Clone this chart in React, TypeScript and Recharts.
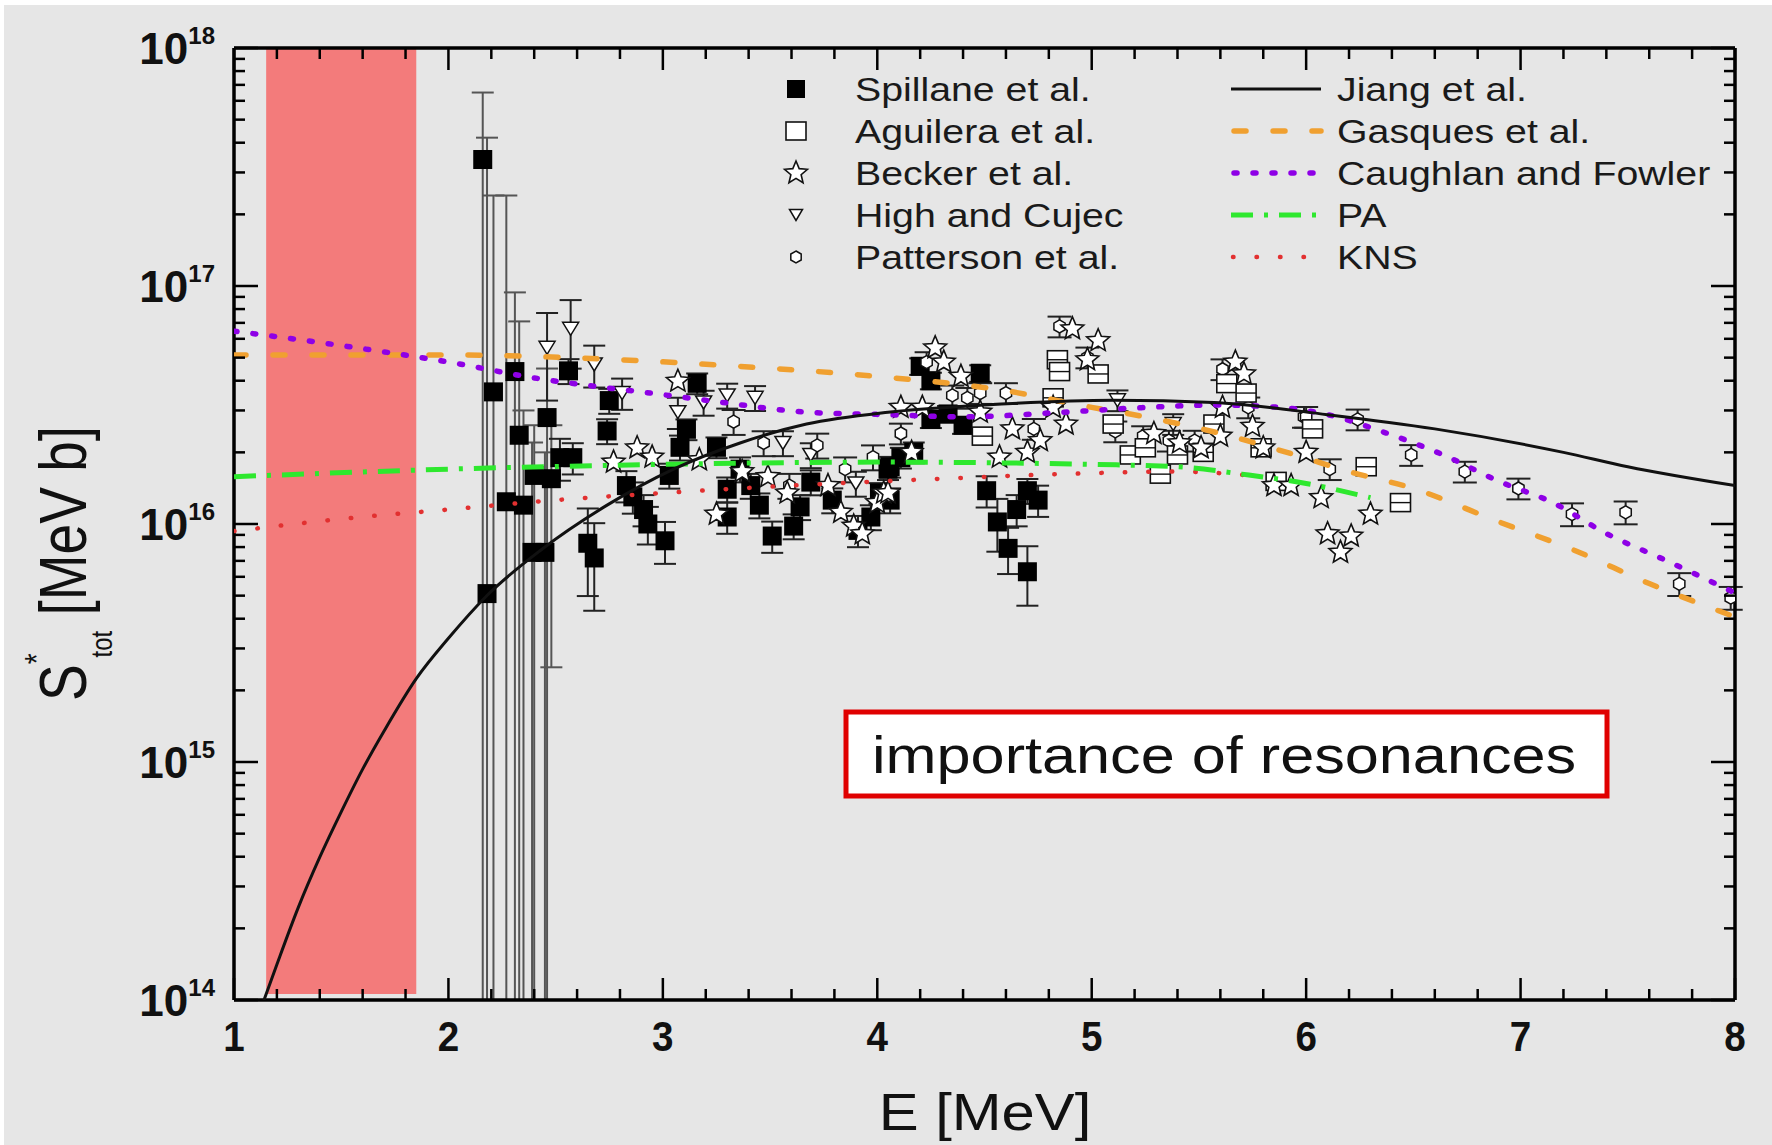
import React from 'react';
import {
  ComposedChart, Line, Scatter, XAxis, YAxis, ErrorBar, ReferenceArea, ReferenceLine,
} from 'recharts';

// ---------------- layout ----------------
const W = 1772;
const H = 1145;
const PLOT = { left: 234, right: 1735, top: 48, bottom: 1000 };
const FONT = '"Liberation Sans", Arial, Helvetica, sans-serif';
const UNIT = 1e16; // values below are given in units of 1e16 MeV b

// ---------------- axis ticks ----------------
const xTicks = [1, 1.2, 1.4, 1.6, 1.8, 2, 2.2, 2.4, 2.6, 2.8, 3, 3.2, 3.4, 3.6, 3.8, 4, 4.2, 4.4, 4.6, 4.8,
  5, 5.2, 5.4, 5.6, 5.8, 6, 6.2, 6.4, 6.6, 6.8, 7, 7.2, 7.4, 7.6, 7.8, 8];
const yDecades = [14, 15, 16, 17];
const yMantissas = [1, 2, 3, 4, 5, 6, 7, 8, 9];
const yTicks: number[] = [];
yDecades.forEach((d) => yMantissas.forEach((m) => yTicks.push(m * Math.pow(10, d))));
yTicks.push(1e18);

// ---------------- data (E [MeV], S* in 1e16 MeV b) ----------------
// Spillane et al.: [E, S, error %]
const spillane: [number, number, number][] = [
  [2.52, 1.9, 20], [2.56, 4.4, 12], [2.58, 1.9, 15], [2.65, 0.83, 40], [2.68, 0.72, 40], [2.74, 2.46, 12],
  [2.75, 3.3, 12], [2.83, 1.45, 15], [2.86, 1.3, 15], [2.91, 1.15, 15], [2.93, 1.0, 18], [3.01, 0.85, 20],
  [3.03, 1.6, 12], [3.08, 2.1, 12], [3.11, 2.5, 10], [3.16, 3.9, 10], [3.25, 2.1, 10], [3.30, 1.4, 12],
  [3.30, 1.07, 15], [3.36, 1.7, 12], [3.41, 1.45, 12], [3.45, 1.2, 12], [3.51, 0.89, 15], [3.61, 0.98, 12],
  [3.64, 1.18, 12], [3.69, 1.5, 12], [3.79, 1.26, 12], [3.91, 0.94, 15], [3.97, 1.07, 12], [4.01, 1.35, 10],
  [4.05, 1.7, 10], [4.06, 1.74, 10], [4.06, 1.26, 12], [4.11, 1.9, 10], [4.17, 2.0, 10], [4.20, 4.6, 8],
  [4.25, 4.0, 8], [4.25, 2.75, 8], [4.33, 2.9, 8], [4.40, 2.6, 8], [4.48, 4.3, 8], [4.51, 1.38, 15],
  [4.56, 1.02, 25], [4.61, 0.79, 22], [4.65, 1.15, 15], [4.70, 1.38, 12], [4.70, 0.63, 28], [4.75, 1.26, 15],
];
// Spillane et al., low-energy points with very large errors: [E, S, lower, upper]
const spillaneWide: [number, number, number, number][] = [
  [2.16, 34, 0.01, 65], [2.18, 0.51, 0.01, 42], [2.21, 3.59, 0.01, 24], [2.27, 1.24, 0.01, 24],
  [2.31, 4.37, 0.01, 9.4], [2.33, 2.36, 0.01, 7.1], [2.35, 1.2, 0.01, 3.0], [2.39, 0.76, 0.01, 2.2],
  [2.40, 1.6, 0.01, 2.6], [2.45, 0.76, 0.01, 2.0], [2.46, 2.8, 0.01, 4.5], [2.48, 1.55, 0.25, 2.6],
];
// Aguilera et al.: [E, S]
const aguilera: [number, number][] = [
  [4.49, 2.34], [4.82, 3.39], [4.84, 4.9], [4.85, 4.37], [5.03, 4.27], [5.10, 2.63], [5.18, 1.95],
  [5.25, 2.09], [5.32, 1.62], [5.40, 1.95], [5.52, 2.0], [5.57, 2.63], [5.63, 3.89], [5.72, 3.55],
  [5.79, 2.09], [5.86, 1.51], [6.03, 2.51], [6.28, 1.74], [6.44, 1.23],
];
// Becker et al.: [E, S]
const becker: [number, number][] = [
  [2.77, 1.82], [2.88, 2.09], [2.95, 1.91], [3.07, 3.98], [3.17, 1.86], [3.25, 1.10], [3.37, 1.66],
  [3.49, 1.58], [3.58, 1.35], [3.77, 1.45], [3.83, 1.12], [3.89, 0.98], [3.93, 0.91], [4.00, 1.23],
  [4.03, 1.35], [4.05, 1.35], [4.11, 3.09], [4.16, 2.0], [4.21, 3.09], [4.27, 5.5], [4.31, 4.79],
  [4.39, 4.17], [4.48, 2.95], [4.57, 1.91], [4.63, 2.51], [4.70, 2.0], [4.76, 2.24], [4.82, 3.09],
  [4.88, 2.63], [4.91, 6.61], [4.98, 4.9], [5.03, 5.89], [5.29, 2.4], [5.41, 2.19], [5.51, 2.09],
  [5.60, 2.34], [5.61, 3.09], [5.67, 4.79], [5.71, 4.27], [5.75, 2.57], [5.80, 2.09], [5.85, 1.45],
  [5.93, 1.45], [6.00, 2.0], [6.07, 1.29], [6.10, 0.91], [6.16, 0.76], [6.21, 0.89], [6.30, 1.10],
];
// High and Cujec: [E, S, error %]
const highCujec: [number, number, number][] = [
  [2.46, 5.5, 40], [2.57, 6.61, 32], [2.68, 4.68, 20], [2.81, 3.55, 15], [3.07, 2.95, 15], [3.19, 3.24, 12],
  [3.30, 3.47, 12], [3.43, 3.39, 12], [3.56, 2.19, 12], [3.69, 1.95, 12], [3.90, 1.48, 12], [5.12, 3.31, 10],
  [5.38, 2.63, 10],
];
// Patterson et al.: [E, S, error %]
const patterson: [number, number, number][] = [
  [3.33, 2.69, 12], [3.47, 2.19, 12], [3.59, 1.45, 12], [3.72, 2.14, 12], [3.85, 1.70, 12], [3.98, 1.91, 12],
  [4.11, 2.40, 10], [4.23, 4.79, 10], [4.35, 3.47, 10], [4.42, 3.39, 10], [4.48, 3.55, 10], [4.60, 3.55, 10],
  [4.73, 2.51, 10], [4.85, 6.76, 10], [4.98, 5.01, 10], [5.11, 2.45, 10], [5.24, 2.34, 10], [5.36, 2.24, 10],
  [5.48, 2.24, 10], [5.61, 4.47, 10], [5.73, 3.09, 10], [5.99, 2.82, 10], [6.00, 2.82, 10], [6.11, 1.70, 10],
  [6.24, 2.75, 10], [6.49, 1.95, 10], [6.74, 1.66, 10], [6.99, 1.41, 10], [7.24, 1.10, 11], [7.49, 1.12, 11],
  [7.74, 0.56, 11], [7.98, 0.49, 11],
];

// Model curves
const jiangE = [1.14, 1.2, 1.3, 1.4, 1.5, 1.6, 1.7, 1.85, 2.0, 2.18, 2.43, 2.74, 3.05, 3.36, 3.67, 4.05, 4.5, 5.1, 5.57, 6.1, 6.6, 7.2, 7.5, 8.0];
const jiangS = [0.01, 0.0141, 0.0245, 0.0398, 0.0617, 0.0933, 0.135, 0.224, 0.331, 0.501, 0.776, 1.20, 1.70, 2.19, 2.63, 2.95, 3.16, 3.31, 3.24, 2.88, 2.51, 2.00, 1.74, 1.45];
const gasquesE = [1.0, 2.0, 2.8, 3.4, 4.0, 4.6, 5.0, 5.25, 5.6, 5.95, 6.2, 6.5, 6.9, 7.25, 7.6, 8.0];
const gasquesS = [5.13, 5.13, 4.90, 4.57, 4.17, 3.63, 3.09, 2.82, 2.40, 1.95, 1.66, 1.41, 1.02, 0.776, 0.562, 0.407];
const cfE = [1.0, 1.5, 2.0, 2.43, 2.67, 2.94, 3.28, 3.67, 4.05, 4.4, 4.87, 5.26, 5.57, 5.88, 6.1, 6.38, 6.64, 6.9, 7.15, 7.4, 7.67, 7.93, 8.0];
const cfS = [6.46, 5.62, 4.79, 4.07, 3.80, 3.55, 3.24, 2.95, 2.88, 2.82, 2.95, 3.09, 3.16, 3.09, 2.88, 2.40, 1.95, 1.51, 1.23, 0.912, 0.708, 0.550, 0.513];
const paE = [1.0, 2.0, 3.0, 4.0, 5.0, 5.4, 5.7, 6.0, 6.3];
const paS = [1.58, 1.70, 1.78, 1.82, 1.78, 1.74, 1.62, 1.48, 1.29];
const knsE = [1.0, 1.5, 2.0, 2.5, 3.0, 3.6, 4.3, 4.85, 5.4, 5.8];
const knsS = [0.933, 1.05, 1.15, 1.26, 1.35, 1.45, 1.55, 1.62, 1.66, 1.58];

// Shaded region (E range)
const bandE: [number, number] = [1.15, 1.85];

// Legend labels
const legendLeft = ['Spillane et al.', 'Aguilera et al.', 'Becker et al.', 'High and Cujec', 'Patterson et al.'];
const legendRight = ['Jiang et al.', 'Gasques et al.', 'Caughlan and Fowler', 'PA', 'KNS'];

// ---------------- build tables ----------------
const curve = (E: number[], S: number[]) => E.map((e, i) => ({ x: e, y: S[i] * UNIT }));
const jiangData = curve(jiangE, jiangS);
const gasquesData = curve(gasquesE, gasquesS);
const cfData = curve(cfE, cfS);
const paData = curve(paE, paS);
const knsData = curve(knsE, knsS);
const pctData = (arr: [number, number, number][]) =>
  arr.map(([e, s, p]) => ({ x: e, y: s * UNIT, err: [s * UNIT * p / 100, s * UNIT * p / 100] }));
const spillaneData = pctData(spillane);
const spillaneWideData = spillaneWide.map(([e, s, lo, hi]) => ({ x: e, y: s * UNIT, err: [(s - lo) * UNIT, (hi - s) * UNIT] }));
const aguileraData = aguilera.map(([e, s]) => ({ x: e, y: s * UNIT }));
const beckerData = becker.map(([e, s]) => ({ x: e, y: s * UNIT }));
const highData = pctData(highCujec);
const pattersonData = pctData(patterson);

// ---------------- styles ----------------
const C = {
  orange: '#f0a030',
  purple: '#8e00e6',
  green: '#2ee82e',
  red: '#e23030',
  band: '#f37b7b',
  bg: '#e6e6e6',
};
const lineStyles = {
  jiang: { stroke: '#111', strokeWidth: 3 },
  gasques: { stroke: C.orange, strokeWidth: 5.5, strokeDasharray: '12 27', strokeLinecap: 'round' as const },
  cf: { stroke: C.purple, strokeWidth: 5.5, strokeDasharray: '3 16', strokeLinecap: 'round' as const },
  pa: { stroke: C.green, strokeWidth: 5, strokeDasharray: '22 11 4 11' },
  kns: { stroke: C.red, strokeWidth: 4.5, strokeDasharray: '0.5 23', strokeLinecap: 'round' as const },
};

// ---------------- marker shapes ----------------
const FilledSquare = ({ cx, cy, s = 19 }: any) => (
  <rect x={cx - s / 2} y={cy - s / 2} width={s} height={s} fill="#000" />
);
const OpenSquare = ({ cx, cy, bar = true }: any) => (
  <g>
    <rect x={cx - 10} y={cy - 9} width={20} height={18} fill="#fff" stroke="#111" strokeWidth={1.6} />
    {bar && <line x1={cx - 10} x2={cx + 10} y1={cy} y2={cy} stroke="#111" strokeWidth={1.4} />}
  </g>
);
const Star = ({ cx, cy, R = 12 }: any) => {
  const pts: string[] = [];
  for (let i = 0; i < 10; i++) {
    const r = i % 2 === 0 ? R : R * 0.45;
    const a = -Math.PI / 2 + (i * Math.PI) / 5;
    pts.push(`${cx + r * Math.cos(a)},${cy + r * Math.sin(a)}`);
  }
  return <polygon points={pts.join(' ')} fill="#fff" stroke="#111" strokeWidth={1.6} />;
};
const TriDown = ({ cx, cy, w = 16, h = 13 }: any) => (
  <polygon points={`${cx - w / 2},${cy - h / 2} ${cx + w / 2},${cy - h / 2} ${cx},${cy + h / 2}`}
    fill="#fff" stroke="#111" strokeWidth={1.5} />
);
const Hex = ({ cx, cy, r = 6.5 }: any) => {
  const pts: string[] = [];
  for (let i = 0; i < 6; i++) {
    const a = -Math.PI / 2 + (i * Math.PI) / 3;
    pts.push(`${cx + r * Math.cos(a)},${cy + r * Math.sin(a)}`);
  }
  return <polygon points={pts.join(' ')} fill="#fff" stroke="#111" strokeWidth={1.5} />;
};

// ---------------- ticks ----------------
const XTick = (props: any) => {
  const { x, y, payload } = props;
  const v = payload.value;
  const major = Math.abs(v - Math.round(v)) < 1e-6;
  const len = major ? 22 : 11;
  return (
    <g>
      <line x1={x} x2={x} y1={y} y2={y - len} stroke="#000" strokeWidth={2.5} />
      <line x1={x} x2={x} y1={PLOT.top} y2={PLOT.top + len} stroke="#000" strokeWidth={2.5} />
      {major && (
        <text transform={`translate(${x},${y + 51}) scale(0.92,1)`} textAnchor="middle"
          fontFamily={FONT} fontWeight="bold" fontSize={42} fill="#111">{Math.round(v)}</text>
      )}
    </g>
  );
};
const YTick = (props: any) => {
  const { x, y, payload } = props;
  const v = payload.value;
  const e = Math.log10(v);
  const major = Math.abs(e - Math.round(e)) < 1e-6;
  const len = major ? 24 : 11;
  return (
    <g>
      <line x1={x} x2={x + len} y1={y} y2={y} stroke="#000" strokeWidth={2.5} />
      <line x1={PLOT.right} x2={PLOT.right - len} y1={y} y2={y} stroke="#000" strokeWidth={2.5} />
      {major && (
        <text transform={`translate(${x - 19},${y + 16})`} textAnchor="end"
          fontFamily={FONT} fontWeight="bold" fontSize={44} fill="#111">
          10<tspan fontSize={24} dy={-20}>{Math.round(e)}</tspan>
        </text>
      )}
    </g>
  );
};

// ---------------- legend / annotations overlay ----------------
const rowY = [89, 131, 173, 215, 257];
const Overlay = () => {
  const lx = 796;
  const tx = 855;
  const sx1 = 1231;
  const sx2 = 1321;
  const rx = 1337;
  const txt = (s: string, x: number, y: number) => (
    <text key={s} transform={`translate(${x},${y + 12}) scale(1.19,1)`} fontFamily={FONT} fontSize={33} fill="#1a1a1a">{s}</text>
  );
  return (
    <svg width={W} height={H} style={{ position: 'absolute', left: 0, top: 0, pointerEvents: 'none' }}>
      {/* legend left column */}
      <FilledSquare cx={lx} cy={rowY[0]} s={18} />
      <OpenSquare cx={lx} cy={rowY[1]} bar={false} />
      <Star cx={lx} cy={rowY[2]} R={12} />
      <TriDown cx={lx} cy={rowY[3]} w={13} h={11} />
      <Hex cx={lx} cy={rowY[4]} r={6} />
      {legendLeft.map((s, i) => txt(s, tx, rowY[i]))}
      {/* legend right column */}
      <line x1={sx1} x2={sx2} y1={rowY[0]} y2={rowY[0]} {...lineStyles.jiang} />
      <line x1={sx1 + 3} x2={sx2} y1={rowY[1]} y2={rowY[1]} {...lineStyles.gasques} />
      <line x1={sx1 + 3} x2={sx2} y1={rowY[2]} y2={rowY[2]} {...lineStyles.cf} />
      <line x1={sx1} x2={sx2} y1={rowY[3]} y2={rowY[3]} {...lineStyles.pa} />
      <line x1={sx1 + 2} x2={sx2} y1={rowY[4]} y2={rowY[4]} {...lineStyles.kns} />
      {legendRight.map((s, i) => txt(s, rx, rowY[i]))}

      {/* annotation box */}
      <rect x={846} y={712} width={761} height={84} fill="#fff" stroke="#e00000" strokeWidth={5} />
      <text transform="translate(872,773) scale(1.2,1)" fontFamily={FONT} fontSize={51} fill="#111">importance of resonances</text>

      {/* axis titles */}
      <text transform="translate(985,1130) scale(1.15,1)" textAnchor="middle" fontFamily={FONT} fontSize={52} fill="#111">E [MeV]</text>
      <text transform="translate(86,701) rotate(-90) scale(1,1.2)" fontFamily={FONT} fontSize={55} fill="#111">
        S<tspan fontSize={28} dy={-32}>*</tspan><tspan fontSize={24} dx={-4} dy={54}>tot</tspan><tspan fontSize={55} dy={-22}> [MeV b]</tspan>
      </text>
    </svg>
  );
};

// ---------------- chart ----------------
export default function App() {
  return (
    <div style={{ position: 'absolute', left: 0, top: 0, width: W, height: H, background: '#fff', overflow: 'hidden' }}>
      <div style={{ position: 'absolute', left: 4, top: 5, right: 0, bottom: 0, background: C.bg }} />
      <div style={{ position: 'absolute', left: 0, top: 0 }}>
        <ComposedChart width={W} height={H}
          margin={{ top: PLOT.top, right: W - PLOT.right, bottom: H - PLOT.bottom - 1, left: PLOT.left - 1 }}>
          <XAxis dataKey="x" type="number" domain={[1, 8]} ticks={xTicks} interval={0} allowDataOverflow
            height={1} tickSize={0} tickMargin={0} tick={<XTick />} tickLine={false}
            axisLine={{ stroke: '#000', strokeWidth: 3.5 }} />
          <YAxis dataKey="y" type="number" scale="log" domain={[1e14, 1e18]} ticks={yTicks} interval={0}
            allowDataOverflow width={1} tickSize={0} tickMargin={0} tick={<YTick />} tickLine={false}
            axisLine={{ stroke: '#000', strokeWidth: 3.5 }} />
          <ReferenceArea x1={bandE[0]} x2={bandE[1]} y1={1.06e14} y2={1e18} fill={C.band} fillOpacity={1} stroke="none" />

          <Scatter data={spillaneWideData} dataKey="y" isAnimationActive={false}
            shape={(p: any) => <FilledSquare cx={p.cx} cy={p.cy} />}>
            <ErrorBar dataKey="err" direction="y" width={11} stroke="#555" strokeWidth={2} />
          </Scatter>
          <Scatter data={spillaneData} dataKey="y" isAnimationActive={false}
            shape={(p: any) => <FilledSquare cx={p.cx} cy={p.cy} />}>
            <ErrorBar dataKey="err" direction="y" width={11} stroke="#222" strokeWidth={2} />
          </Scatter>
          <Scatter data={highData} dataKey="y" isAnimationActive={false}
            shape={(p: any) => <TriDown cx={p.cx} cy={p.cy} />}>
            <ErrorBar dataKey="err" direction="y" width={11} stroke="#222" strokeWidth={2} />
          </Scatter>
          <Scatter data={pattersonData} dataKey="y" isAnimationActive={false}
            shape={(p: any) => <Hex cx={p.cx} cy={p.cy} />}>
            <ErrorBar dataKey="err" direction="y" width={12} stroke="#222" strokeWidth={2} />
          </Scatter>
          <Scatter data={aguileraData} dataKey="y" isAnimationActive={false}
            shape={(p: any) => <OpenSquare cx={p.cx} cy={p.cy} />} />
          <Scatter data={beckerData} dataKey="y" isAnimationActive={false}
            shape={(p: any) => <Star cx={p.cx} cy={p.cy} />} />

          <Line data={knsData} dataKey="y" type="monotone" dot={false} activeDot={false} isAnimationActive={false} {...lineStyles.kns} zIndex={700} />
          <Line data={paData} dataKey="y" type="monotone" dot={false} activeDot={false} isAnimationActive={false} {...lineStyles.pa} zIndex={700} />
          <Line data={gasquesData} dataKey="y" type="monotone" dot={false} activeDot={false} isAnimationActive={false} {...lineStyles.gasques} zIndex={700} />
          <Line data={cfData} dataKey="y" type="monotone" dot={false} activeDot={false} isAnimationActive={false} {...lineStyles.cf} zIndex={700} />
          <Line data={jiangData} dataKey="y" type="monotone" dot={false} activeDot={false} isAnimationActive={false} {...lineStyles.jiang} zIndex={700} />

          <ReferenceLine y={1e18} stroke="#000" strokeWidth={3.5} />
          <ReferenceLine x={8} stroke="#000" strokeWidth={3.5} />
        </ComposedChart>
      </div>
      <Overlay />
    </div>
  );
}
